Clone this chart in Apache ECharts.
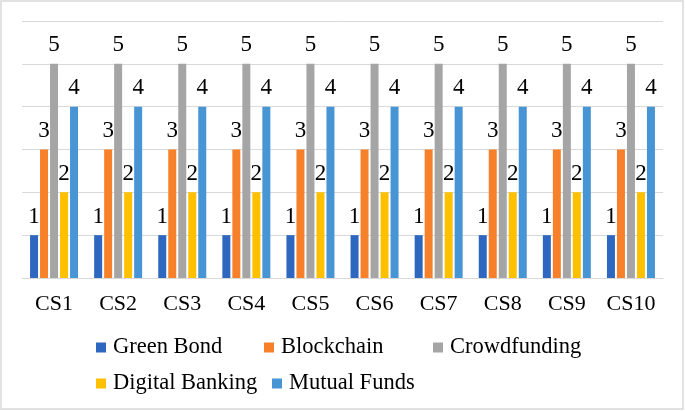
<!DOCTYPE html>
<html>
<head>
<meta charset="utf-8">
<script src="https://cdn.jsdelivr.net/npm/echarts@6/dist/echarts.min.js"></script>
<style>
html,body{margin:0;padding:0;background:#fff;}
#c{width:685px;height:411px;}
</style>
</head>
<body>
<div id="c"></div>
<script>
const categories = ['CS1','CS2','CS3','CS4','CS5','CS6','CS7','CS8','CS9','CS10'];
const seriesNames = ['Green Bond','Blockchain','Crowdfunding','Digital Banking','Mutual Funds'];
const greenBond = [1,1,1,1,1,1,1,1,1,1];
const blockchain = [3,3,3,3,3,3,3,3,3,3];
const crowdfunding = [5,5,5,5,5,5,5,5,5,5];
const digitalBanking = [2,2,2,2,2,2,2,2,2,2];
const mutualFunds = [4,4,4,4,4,4,4,4,4,4];
const seriesData = [greenBond, blockchain, crowdfunding, digitalBanking, mutualFunds];
const colors = ['#2E67BF','#F7802A','#A5A5A5','#FFC000','#4895D6'];

const font = '"Liberation Serif","Times New Roman",serif';
const chart = echarts.init(document.getElementById('c'));

const legendPos = [
  {left: 91, top: 331},
  {left: 259, top: 331},
  {left: 428, top: 331},
  {left: 91, top: 367},
  {left: 267, top: 367}
];

chart.setOption({
  animation: false,
  backgroundColor: '#fff',
  color: colors,
  graphic: [{
    type: 'rect',
    shape: {x: 1, y: 1, width: 682, height: 408},
    style: {fill: 'none', stroke: '#d9d9d9', lineWidth: 1.5},
    silent: true
  }],
  grid: {left: 22, right: 22, top: 21, bottom: 133, containLabel: false},
  legend: seriesNames.map((n, i) => ({
    data: [n],
    left: legendPos[i].left,
    top: legendPos[i].top,
    itemWidth: 10,
    itemHeight: 10,
    icon: 'rect',
    textStyle: {fontFamily: font, fontSize: 22.5, color: '#000', padding: [0,0,0,2]}
  })),
  xAxis: {
    type: 'category',
    data: categories,
    axisTick: {show: false},
    axisLine: {lineStyle: {color: '#d9d9d9', width: 1}},
    axisLabel: {fontFamily: font, fontSize: 22, color: '#000', margin: 15}
  },
  yAxis: {
    type: 'value',
    min: 0, max: 6, interval: 1,
    axisLabel: {show: false},
    axisLine: {show: false},
    axisTick: {show: false},
    splitLine: {lineStyle: {color: '#d9d9d9', width: 1}}
  },
  series: seriesNames.map((n, i) => ({
    name: n,
    type: 'bar',
    data: seriesData[i],
    barWidth: 8,
    barGap: '25%',
    itemStyle: {color: colors[i]},
    label: {show: true, position: 'top', distance: 7, fontFamily: font, fontSize: 23, color: '#000'}
  }))
});
</script>
</body>
</html>
